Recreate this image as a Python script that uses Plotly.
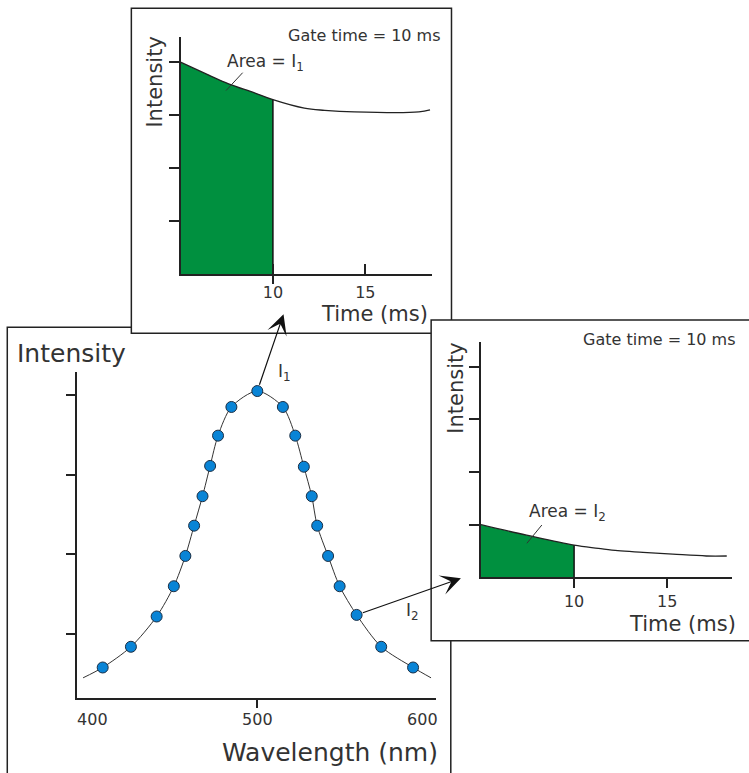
import plotly.graph_objects as go

W, H = 749, 773

# ---------------- data ----------------
# Main emission spectrum (wavelength in nm, intensity in tick units)
wavelength_nm = [406.3, 423.4, 439.0, 449.4, 456.4, 461.7, 466.8, 471.4, 476.2, 484.3, 500.0,
                 515.5, 523.0, 528.2, 533.0, 536.3, 542.9, 549.9, 560.2, 575.1, 594.4]
intensity = [0.58, 0.84, 1.22, 1.60, 1.98, 2.36, 2.73, 3.11, 3.49, 3.85, 4.05,
             3.85, 3.49, 3.10, 2.73, 2.36, 1.98, 1.60, 1.24, 0.84, 0.58]
curve_start_nm, curve_start_int = 394.4, 0.45
curve_end_nm, curve_end_int = 605.3, 0.45
wl_ticks = [400, 500, 600]
int_ticks = [1, 2, 3, 4]

# Inset 1: decay at the peak (time in ms)
t1 = [5.0, 6.5, 7.6, 9.0, 10.0, 11.7, 12.8, 14.4, 17.9, 18.5]
d1 = [4.0, 3.76, 3.59, 3.42, 3.29, 3.13, 3.09, 3.06, 3.06, 3.10]
# Inset 2: decay on the red wing
t2 = [5.0, 7.45, 10.0, 11.3, 12.35, 13.7, 15.3, 17.1, 18.2]
d2 = [1.0, 0.80, 0.61, 0.55, 0.505, 0.475, 0.44, 0.405, 0.405]
gate_ms = 10
time_ticks = [10, 15]
time_ticktext = ["10", "15"]

# ---------------- styling ----------------
FONT = "DejaVu Sans"
TXT = "#333333"
LINE = "#222222"
GREEN = "#00903f"
BLUE = "#0984d6"


def px(x):
    return x / W


def py(y):
    return 1 - y / H


fig = go.Figure()

# main curve + points
fig.add_trace(go.Scatter(
    x=[curve_start_nm] + wavelength_nm + [curve_end_nm],
    y=[curve_start_int] + intensity + [curve_end_int],
    mode="lines", line=dict(color="#333333", width=1, shape="spline", smoothing=0.8),
    xaxis="x", yaxis="y", hoverinfo="skip"))
fig.add_trace(go.Scatter(
    x=wavelength_nm, y=intensity, mode="markers",
    marker=dict(symbol="circle", size=11, color=BLUE, line=dict(color="#1b2f45", width=1)),
    xaxis="x", yaxis="y"))


def add_decay(t, d, xa, ya):
    n = sum(1 for v in t if v <= gate_ms)
    fig.add_trace(go.Scatter(
        x=t[:n], y=d[:n], mode="lines", fill="tozeroy", fillcolor=GREEN,
        line=dict(color=GREEN, width=0, shape="spline"),
        xaxis=xa, yaxis=ya, hoverinfo="skip"))
    fig.add_trace(go.Scatter(
        x=t, y=d, mode="lines", line=dict(color="#222222", width=1.3, shape="spline"),
        xaxis=xa, yaxis=ya, hoverinfo="skip"))
    fig.add_trace(go.Scatter(
        x=[gate_ms, gate_ms], y=[0, d[n - 1]], mode="lines",
        line=dict(color="#111111", width=1.5),
        xaxis=xa, yaxis=ya, hoverinfo="skip"))


add_decay(t1, d1, "x2", "y2")
add_decay(t2, d2, "x3", "y3")

common_ax = dict(showline=True, linecolor=LINE, linewidth=1.5, showgrid=False, zeroline=False,
                 tickcolor=LINE, tickwidth=1.5, tickfont=dict(family=FONT, size=16, color=TXT))

fig.update_layout(
    xaxis=dict(domain=[px(77), px(437)], range=[390.6, 608.2], anchor="y",
               tickmode="array", tickvals=wl_ticks, ticks="inside", ticklen=0,
               minor=dict(tickmode="array", tickvals=[500], ticks="outside", ticklen=8,
                          tickcolor=LINE, tickwidth=1.5),
               ticklabelstandoff=6, **common_ax),
    yaxis=dict(domain=[py(698), py(372)], range=[0.197, 4.289], anchor="x",
               tickmode="array", tickvals=int_ticks, ticks="outside", ticklen=9,
               showticklabels=False, **common_ax),
    xaxis2=dict(domain=[px(181), px(433)], range=[5, 18.6], anchor="y2",
                tickmode="array", tickvals=time_ticks, ticktext=time_ticktext,
                ticks="inside", ticklen=10,
                minor=dict(tickmode="array", tickvals=[gate_ms], ticks="outside", ticklen=8,
                           tickcolor=LINE, tickwidth=1.5),
                ticklabelstandoff=3, **common_ax),
    yaxis2=dict(domain=[py(274), py(36.7)], range=[0, 4.48], anchor="x2",
                tickmode="array", tickvals=int_ticks, ticks="outside", ticklen=10,
                showticklabels=False, **common_ax),
    xaxis3=dict(domain=[px(482.3), px(734.3)], range=[5, 18.5], anchor="y3",
                tickmode="array", tickvals=time_ticks, ticktext=time_ticktext,
                ticks="outside", ticklen=9, ticklabelstandoff=0, **common_ax),
    yaxis3=dict(domain=[py(577.3), py(341.7)], range=[0, 4.475], anchor="x3",
                tickmode="array", tickvals=int_ticks, ticks="outside", ticklen=10,
                showticklabels=False, **common_ax),
)

# frames (drawn in order: main, inset 1, inset 2)
frame = dict(type="rect", xref="paper", yref="paper", layer="below",
             line=dict(color=LINE, width=1.5), fillcolor="white")
shapes = [
    dict(frame, x0=px(7.3), x1=px(452), y0=py(800), y1=py(327.3)),
    dict(frame, x0=px(131.7), x1=px(452.7), y0=py(333.3), y1=py(8.3)),
    dict(frame, x0=px(432.3), x1=px(770), y0=py(640.7), y1=py(320)),
    # leader lines for the "Area" labels
    dict(type="line", xref="paper", yref="paper", x0=px(243.3), y0=py(72.7), x1=px(226.7), y1=py(90.5),
         line=dict(color="#333333", width=1)),
    dict(type="line", xref="paper", yref="paper", x0=px(543.3), y0=py(525), x1=px(528.3), y1=py(543.3),
         line=dict(color="#333333", width=1)),
]


def txt(text, x, y, size, xanchor="center", yanchor="middle", angle=0):
    return dict(text=text, x=px(x), y=py(y), xref="paper", yref="paper", showarrow=False,
                xanchor=xanchor, yanchor=yanchor, textangle=angle,
                font=dict(family=FONT, size=size, color=TXT))


annotations = [
    txt("Intensity", 15, 353, 25, xanchor="left"),
    txt("Wavelength (nm)", 441, 752, 25, xanchor="right"),
    txt("I<sub>1</sub>", 285, 372, 17),
    txt("I<sub>2</sub>", 414, 611, 17),
    # inset 1
    txt("Gate time = 10 ms", 444, 35, 16, xanchor="right"),
    txt("Area = I<sub>1</sub>", 226, 63, 17, xanchor="left"),
    txt("Intensity", 155, 82, 21, angle=-90),
    txt("Time (ms)", 376, 314, 21),
    # inset 2
    txt("Gate time = 10 ms", 740, 339, 16, xanchor="right"),
    txt("Area = I<sub>2</sub>", 528, 512, 17, xanchor="left"),
    txt("Intensity", 457, 388, 21, angle=-90),
    txt("Time (ms)", 684, 624, 21),
]

# arrows from spectrum points to the insets
peak_i = intensity.index(max(intensity))
wing_i = 18
annotations += [
    dict(text="", xref="x", yref="y", axref="x", ayref="y",
         x=515.9, y=5.015, ax=wavelength_nm[peak_i], ay=intensity[peak_i],
         showarrow=True, arrowhead=3, arrowsize=2.8, arrowwidth=1.2, arrowcolor="#111111",
         startstandoff=5),
    dict(text="", xref="x", yref="y", axref="x", ayref="y",
         x=623.4, y=1.70, ax=wavelength_nm[wing_i], ay=intensity[wing_i],
         showarrow=True, arrowhead=3, arrowsize=2.8, arrowwidth=1.2, arrowcolor="#111111",
         startstandoff=5),
]

fig.update_layout(
    width=W, height=H, margin=dict(l=0, r=0, t=0, b=0),
    paper_bgcolor="white", plot_bgcolor="rgba(0,0,0,0)",
    showlegend=False, shapes=shapes, annotations=annotations,
    font=dict(family=FONT, color=TXT),
)

fig.write_html("out.html", config={"displayModeBar": False},
               post_script="document.body.style.margin='0';document.body.style.overflow='hidden';")
